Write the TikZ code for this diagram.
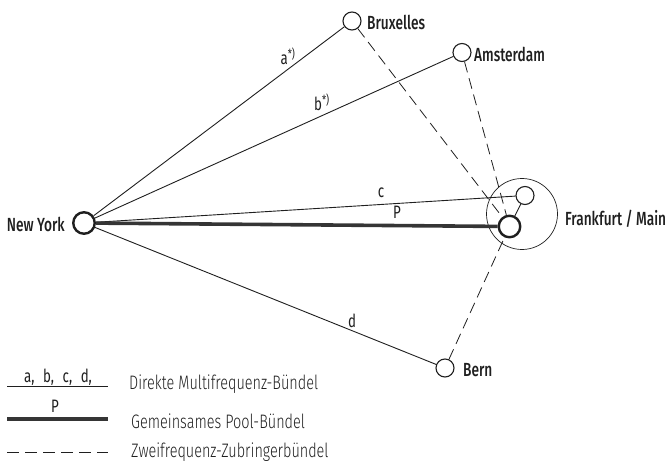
\documentclass[tikz,border=0pt]{standalone}
\usepackage{fontspec}
\setmainfont{Fira Sans}[FakeStretch=0.74]
\newfontfamily\cityfont{Fira Sans Medium}[FakeStretch=0.72]
\newfontfamily\legfont{Fira Sans Light}[FakeStretch=0.74]
\definecolor{ink}{gray}{0.12}
\tikzset{
  city/.style={circle, draw=ink, line width=1.1pt, minimum size=18pt, inner sep=0pt},
  hub/.style={circle, draw=ink, line width=2.4pt, minimum size=21.5pt, inner sep=0pt},
  area/.style={circle, draw=ink, line width=0.7pt, minimum size=71pt, inner sep=0pt},
  cityname/.style={anchor=west, inner sep=0pt, text=ink, font=\cityfont\fontsize{19}{21}\selectfont},
  linklabel/.style={inner sep=0pt, text=ink, font=\fontsize{18}{20}\selectfont},
  legtext/.style={anchor=west, inner sep=0pt, text=ink, font=\legfont\fontsize{19.5}{22}\selectfont},
  trunk/.style={draw=ink, line width=0.9pt},
  pool/.style={draw=ink!90, line width=3.6pt},
  feeder/.style={draw=ink, line width=0.8pt, dash pattern=on 11pt off 6pt},
}
\begin{document}
\begin{tikzpicture}[x=1pt,y=-1pt]
\useasboundingbox (0,0) rectangle (669,465);
% cities
\node[hub]  (ny) at (84,223) {};
\node[city] (bx) at (352,21) {};
\node[city] (am) at (462,52.5) {};
\node[area] (fa) at (522,214) {};
\node[city] (fs) at (525,195.5) {};
\node[hub]  (fm) at (509.5,226.5) {};
\node[city] (be) at (445,368) {};
% names
\node[cityname, anchor=east] (nyl) at (65,224) {New York};
\node[cityname] (bxl) at (367,22) {Bruxelles};
\node[cityname] (aml) at (474,54) {Amsterdam};
\node[cityname] (fml) at (565,219) {Frankfurt / Main};
\node[cityname] (bel) at (463,370) {Bern};
% direct bundles
\draw[trunk] (ny) -- (bx);
\draw[trunk] (ny) -- (am);
\draw[trunk] (ny) -- (fs);
\draw[trunk] (ny) -- (be);
\draw[pool] (ny) -- (fm);
\draw[trunk] (fs) -- (fm);
% feeder bundles
\draw[feeder] (bx) -- (fm);
\draw[feeder] (am) -- (fm);
\draw[feeder] (be) -- (fm);
% link labels
\node[linklabel] (lbla) at (288,56) {a\textsuperscript{*)}};
\node[linklabel] (lblb) at (322,102) {b\textsuperscript{*)}};
\node[linklabel] (lblc) at (381,193) {c};
\node[linklabel] (lblp) at (397,212) {P};
\node[linklabel] (lbld) at (352,321) {d};
% legend
\coordinate (l1a) at (7,386);
\coordinate (l1b) at (108,386);
\draw[trunk] (l1a) -- (l1b);
\node[linklabel, anchor=base] (l1t) at (58,382) {a,\; b,\; c,\; d,};
\node[legtext] (l1x) at (129,384) {Direkte Multifrequenz-Bündel};
\coordinate (l2a) at (7,419);
\coordinate (l2b) at (108,419);
\draw[pool] (l2a) -- (l2b);
\node[linklabel, anchor=base] (l2t) at (55,412) {P};
\node[legtext] (l2x) at (131,421) {Gemeinsames Pool-Bündel};
\coordinate (l3a) at (7,452);
\coordinate (l3b) at (108,452);
\draw[feeder, dash pattern=on 12pt off 6pt] (l3a) -- (l3b);
\node[legtext] (l3x) at (131,452) {Zweifrequenz-Zubringerbündel};
\end{tikzpicture}
\end{document}
